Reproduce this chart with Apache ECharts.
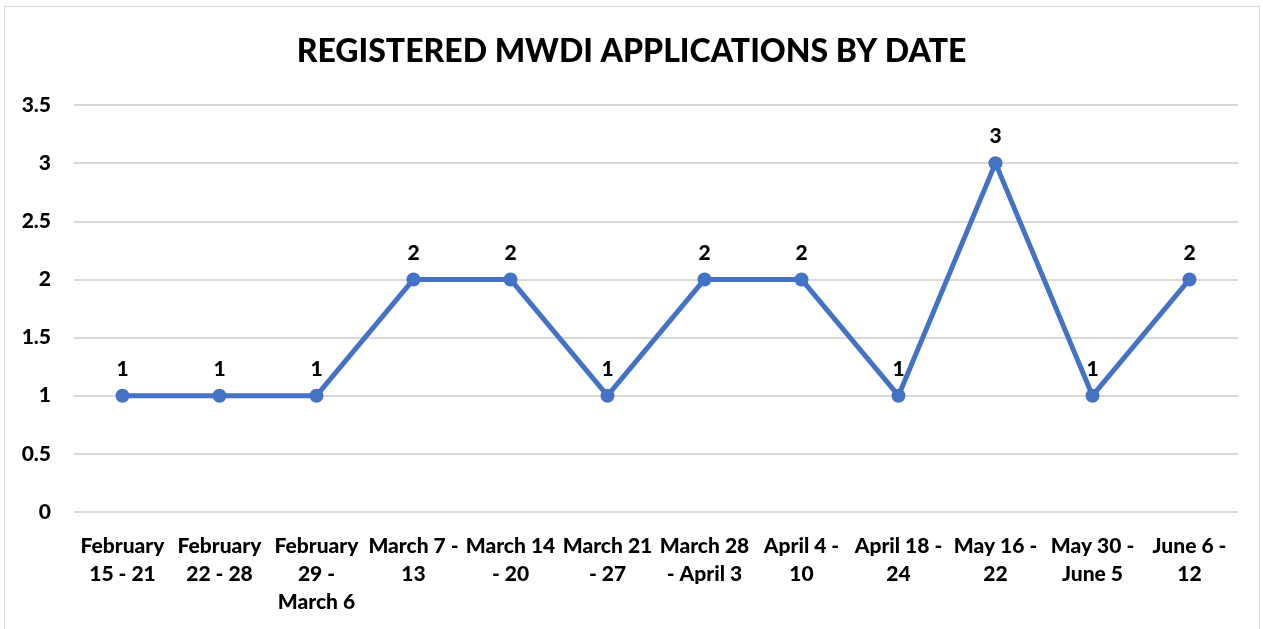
<!DOCTYPE html>
<html>
<head>
<meta charset="utf-8">
<script src="https://cdn.jsdelivr.net/npm/echarts@6/dist/echarts.min.js"></script>
<style>
    html, body { margin: 0; padding: 0; background: #fff; }
    #frame { position: absolute; left: 4px; top: 6px; width: 1254px; height: 640px; border: 1px solid #d9d9d9; }
    #main { position: absolute; left: 0; top: 0; width: 1263px; height: 629px; }
</style>
</head>
<body>
<div id="frame"></div>
<div id="main"></div>
<script>
    var categories = [
        "February\n15 - 21", "February\n22 - 28", "February\n29 -\nMarch 6", "March 7 -\n13",
        "March 14\n- 20", "March 21\n- 27", "March 28\n- April 3", "April 4 -\n10",
        "April 18 -\n24", "May 16 -\n22", "May 30 -\nJune 5", "June 6 -\n12"
    ];
    var applications = [1, 1, 1, 2, 2, 1, 2, 2, 1, 3, 1, 2];

    var font = 'Lato, "Open Sans", sans-serif';
    var myChart = echarts.init(document.getElementById('main'));

    var option = {
        animation: false,
        title: {
            text: 'REGISTERED MWDI APPLICATIONS BY DATE',
            left: 'center',
            top: 31,
            textStyle: { fontFamily: font, fontWeight: 900, fontSize: 32, color: '#000' }
        },
        grid: { left: 74, right: 25, top: 105, bottom: 117, containLabel: false },
        xAxis: {
            type: 'category',
            data: categories,
            boundaryGap: true,
            axisLine: { show: false },
            axisTick: { show: false },
            axisLabel: {
                interval: 0,
                margin: 20,
                hideOverlap: false,
                fontFamily: font, fontWeight: 900, fontSize: 21, color: '#000',
                lineHeight: 28
            }
        },
        yAxis: {
            type: 'value',
            min: 0, max: 3.5, interval: 0.5,
            axisLine: { show: false },
            axisTick: { show: false },
            splitLine: { lineStyle: { color: '#d9d9d9', width: 2 } },
            axisLabel: {
                margin: 23,
                fontFamily: font, fontWeight: 900, fontSize: 21, color: '#000'
            }
        },
        series: [{
            type: 'line',
            data: applications,
            symbol: 'circle',
            symbolSize: 14,
            itemStyle: { color: '#4472C4' },
            lineStyle: { color: '#4472C4', width: 5 },
            label: {
                show: true,
                position: 'top',
                distance: 9,
                fontFamily: font, fontWeight: 900, fontSize: 21, color: '#000'
            }
        }]
    };
    myChart.setOption(option);
</script>
</body>
</html>
